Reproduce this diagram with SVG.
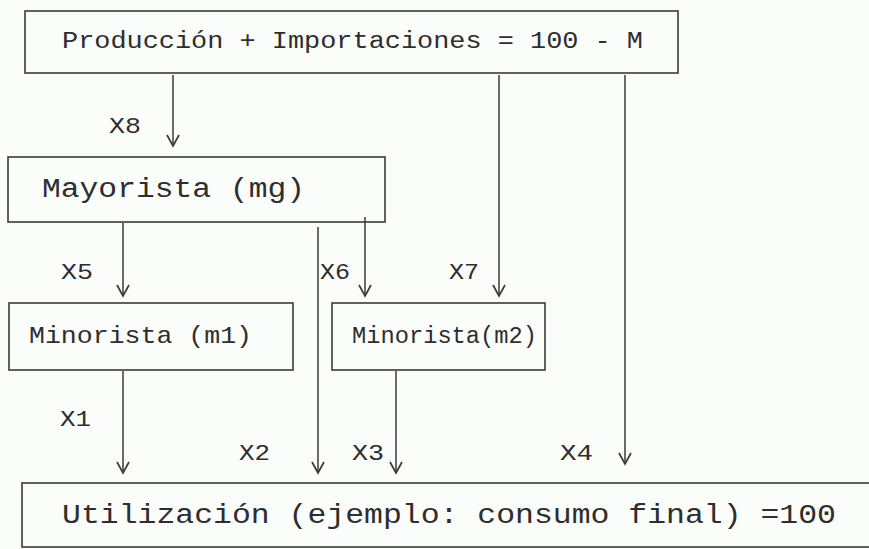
<svg xmlns="http://www.w3.org/2000/svg" width="869" height="549" viewBox="0 0 869 549">
<style>
.bg{fill:#fbfdfb}
.box{fill:none;stroke:#3a3a3a;stroke-width:1.6}
.t{font-family:"Liberation Mono","DejaVu Sans Mono",monospace;font-size:23px;fill:#2e2e2e}
.tm{font-family:"Liberation Mono","DejaVu Sans Mono",monospace;font-size:24px;fill:#2e2e2e}
.tb{font-family:"Liberation Mono","DejaVu Sans Mono",monospace;font-size:27px;fill:#2e2e2e}
.lbl{font-family:"Liberation Mono","DejaVu Sans Mono",monospace;font-size:22px;fill:#2e2e2e}
.c{fill:none;stroke:#3a3a3a;stroke-width:1.5;marker-end:url(#ah)}
</style>
<defs>
<marker id="ah" markerWidth="16" markerHeight="16" refX="13" refY="7" orient="auto" markerUnits="userSpaceOnUse" viewBox="0 0 16 14">
<polyline points="2,1 13,7 2,13" fill="none" stroke="#3a3a3a" stroke-width="1.7"/>
</marker>
</defs>
<rect class="bg" x="0" y="0" width="869" height="549"/>
<g id="produccion">
<rect class="box" x="25" y="11" width="653" height="62"/>
<text class="t" x="62" y="48" textLength="581" lengthAdjust="spacingAndGlyphs">Producción + Importaciones = 100 - M</text>
</g>
<g id="mayorista">
<rect class="box" x="8" y="157" width="377" height="65"/>
<text class="tb" x="42" y="197" textLength="263" lengthAdjust="spacingAndGlyphs">Mayorista (mg)</text>
</g>
<g id="minorista1">
<rect class="box" x="9" y="303" width="284" height="67"/>
<text class="tm" x="29" y="343" textLength="223" lengthAdjust="spacingAndGlyphs">Minorista (m1)</text>
</g>
<g id="minorista2">
<rect class="box" x="332" y="303" width="213" height="67"/>
<text class="t" x="352" y="343" textLength="185" lengthAdjust="spacingAndGlyphs">Minorista(m2)</text>
</g>
<g id="utilizacion">
<rect class="box" x="22" y="483" width="860" height="64"/>
<text class="tb" x="62" y="523" textLength="774" lengthAdjust="spacingAndGlyphs">Utilización (ejemplo: consumo final) =100</text>
</g>
<g id="connectors">
<line class="c" x1="173" y1="75" x2="173" y2="146"/>
<line class="c" x1="499" y1="75" x2="499" y2="296"/>
<line class="c" x1="625" y1="75" x2="625" y2="464"/>
<line class="c" x1="123" y1="223" x2="123" y2="296"/>
<line class="c" x1="365" y1="217" x2="365" y2="296"/>
<line class="c" x1="318" y1="227" x2="318" y2="473"/>
<line class="c" x1="123" y1="371" x2="123" y2="473"/>
<line class="c" x1="396" y1="371" x2="396" y2="473"/>
</g>
<g id="labels">
<text class="lbl" x="109" y="133" textLength="32" lengthAdjust="spacingAndGlyphs">X8</text>
<text class="lbl" x="61" y="279" textLength="32" lengthAdjust="spacingAndGlyphs">X5</text>
<text class="lbl" x="320" y="279" textLength="30" lengthAdjust="spacingAndGlyphs">X6</text>
<text class="lbl" x="449" y="279" textLength="30" lengthAdjust="spacingAndGlyphs">X7</text>
<text class="lbl" x="60" y="426" textLength="31" lengthAdjust="spacingAndGlyphs">X1</text>
<text class="lbl" x="239" y="460" textLength="31" lengthAdjust="spacingAndGlyphs">X2</text>
<text class="lbl" x="352" y="460" textLength="32" lengthAdjust="spacingAndGlyphs">X3</text>
<text class="lbl" x="560" y="460" textLength="33" lengthAdjust="spacingAndGlyphs">X4</text>
</g>
</svg>
